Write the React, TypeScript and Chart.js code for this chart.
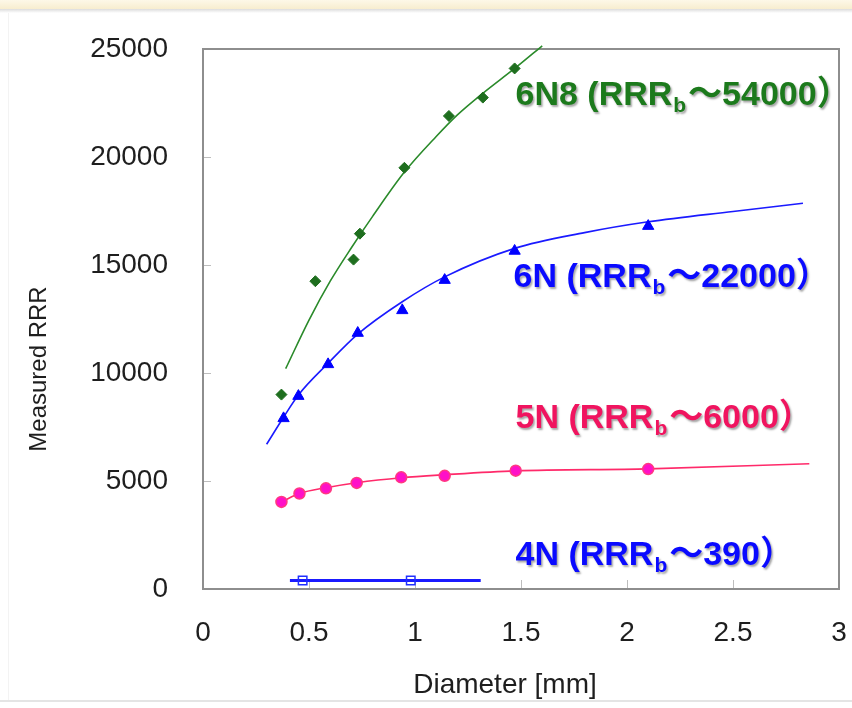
import React, { useEffect, useRef } from "react";
import { Chart, registerables } from "chart.js";

Chart.register(...registerables);

// ---------- data ----------
// 6N8 measured points (green diamonds)
const pts6N8X = [0.37, 0.53, 0.71, 0.74, 0.95, 1.16, 1.32, 1.47];
const pts6N8Y = [9000, 14250, 15250, 16450, 19500, 21900, 22750, 24100];
// 6N8 fitted curve (green line)
const fit6N8X = [0.39, 0.5, 0.6, 0.7, 0.8, 0.95, 1.1, 1.2, 1.32, 1.47, 1.6];
const fit6N8Y = [10200, 12450, 14250, 15800, 17250, 19300, 20950, 21950, 22950, 24100, 25150];

// 6N measured points (blue triangles)
const pts6NX = [0.38, 0.45, 0.59, 0.73, 0.94, 1.14, 1.47, 2.1];
const pts6NY = [7900, 8930, 10400, 11850, 12900, 14300, 15650, 16800];
// 6N fitted curve
const fit6NX = [0.3, 0.38, 0.45, 0.59, 0.73, 0.94, 1.14, 1.47, 1.8, 2.1, 2.5, 2.83];
const fit6NY = [6700, 7950, 8980, 10450, 11800, 13300, 14450, 15770, 16500, 17000, 17480, 17860];

// 5N measured points (magenta circles)
const pts5NX = [0.37, 0.455, 0.58, 0.725, 0.935, 1.14, 1.475, 2.1];
const pts5NY = [4030, 4420, 4660, 4910, 5170, 5240, 5480, 5550];
// 5N fitted curve
const fit5NX = [0.37, 0.455, 0.58, 0.725, 0.935, 1.14, 1.475, 2.1, 2.86];
const fit5NY = [4030, 4420, 4690, 4920, 5150, 5290, 5470, 5560, 5800];

// 4N measured points (hollow squares) and line
const pts4NX = [0.47, 0.98];
const pts4NY = [390, 390];
const fit4NX = [0.41, 1.31];
const fit4NY = [390, 390];

// axis ticks
const xTickValues = [0, 0.5, 1, 1.5, 2, 2.5, 3];
const xTickLabels = ["0", "0.5", "1", "1.5", "2", "2.5", "3"];
const yTickValues = [0, 5000, 10000, 15000, 20000, 25000];
const yTickLabels = ["0", "5000", "10000", "15000", "20000", "25000"];

// series annotations (text)
const labelPre = ["6N8 (RRR", "6N (RRR", "5N (RRR", "4N (RRR"];
const labelSub = ["b", "b", "b", "b"];
const labelPost = ["～54000）", "～22000）", "～6000）", "～390）"];
// anchors of the annotations in data units (left x, baseline y)
const labelAnchorX = [1.474, 1.465, 1.474, 1.474];
const labelAnchorY = [22400, 13980, 7450, 1110];

const xTitle = "Diameter [mm]";
const yTitle = "Measured RRR";

// ---------- styles ----------
const FONT = '"Liberation Sans", Arial, "Noto Sans CJK JP", sans-serif';
const labelColors = ["#1c7a1c", "#0a0aff", "#f0145f", "#0a0aff"];

const toXY = (xs: number[], ys: number[]) => xs.map((x, i) => ({ x, y: ys[i] }));

const framePlugin = {
  id: "frame",
  beforeDatasetsDraw(chart: any) {
    const { ctx, chartArea: a, scales } = chart;
    ctx.save();
    ctx.strokeStyle = "#bdbdbd";
    ctx.lineWidth = 1;
    yTickValues.forEach((v) => {
      const y = Math.round(scales.y.getPixelForValue(v)) + 0.5;
      ctx.beginPath();
      ctx.moveTo(a.left, y);
      ctx.lineTo(a.left + 8, y);
      ctx.stroke();
    });
    xTickValues.forEach((v) => {
      const x = Math.round(scales.x.getPixelForValue(v)) + 0.5;
      ctx.beginPath();
      ctx.moveTo(x, a.bottom);
      ctx.lineTo(x, a.bottom - 9);
      ctx.stroke();
    });
    ctx.strokeStyle = "#8e8e8e";
    ctx.lineWidth = 2;
    ctx.strokeRect(a.left, a.top, a.right - a.left, a.bottom - a.top);
    ctx.restore();
  },
};

const labelPlugin = {
  id: "seriesLabels",
  afterDatasetsDraw(chart: any) {
    const { ctx, scales } = chart;
    ctx.save();
    ctx.textAlign = "left";
    ctx.textBaseline = "alphabetic";
    ctx.shadowColor = "rgba(0,0,0,0.35)";
    ctx.shadowOffsetX = 1.5;
    ctx.shadowOffsetY = 1.5;
    ctx.shadowBlur = 2;
    labelPre.forEach((pre, i) => {
      const x = scales.x.getPixelForValue(labelAnchorX[i]);
      const y = scales.y.getPixelForValue(labelAnchorY[i]);
      ctx.fillStyle = labelColors[i];
      ctx.font = `bold 34px ${FONT}`;
      ctx.fillText(pre, x, y);
      let w = ctx.measureText(pre).width + 1;
      ctx.font = `bold 21px ${FONT}`;
      ctx.fillText(labelSub[i], x + w, y + 7);
      w += ctx.measureText(labelSub[i]).width + 2;
      ctx.font = `bold 34px ${FONT}`;
      ctx.fillText(labelPost[i], x + w, y);
    });
    ctx.restore();
  },
};

const titlePlugin = {
  id: "axisTitles",
  afterDraw(chart: any) {
    const { ctx } = chart;
    ctx.save();
    ctx.fillStyle = "#1e1e1e";
    ctx.textAlign = "center";
    ctx.textBaseline = "middle";
    ctx.font = `28px ${FONT}`;
    ctx.fillText(xTitle, 505, 685);
    ctx.translate(39, 369);
    ctx.rotate(-Math.PI / 2);
    ctx.font = `24px ${FONT}`;
    ctx.fillText(yTitle, 0, 0);
    ctx.restore();
  },
};

export default function App() {
  const canvasRef = useRef<HTMLCanvasElement | null>(null);

  useEffect(() => {
    document.body.style.margin = "0";
    const canvas = canvasRef.current;
    if (!canvas) return;
    const chart = new Chart(canvas, {
      type: "scatter",
      data: {
        datasets: [
          {
            label: "6N8 data",
            data: toXY(pts6N8X, pts6N8Y),
            showLine: false,
            pointStyle: "rectRot",
            pointRadius: 5.5,
            backgroundColor: "#1e6e1e",
            borderColor: "#1e6e1e",
            borderWidth: 1,
          },
          {
            label: "6N data",
            data: toXY(pts6NX, pts6NY),
            showLine: false,
            pointStyle: "triangle",
            pointRadius: 6.5,
            backgroundColor: "#0000ff",
            borderColor: "#0000ff",
            borderWidth: 1,
          },
          {
            label: "5N data",
            data: toXY(pts5NX, pts5NY),
            showLine: false,
            pointStyle: "circle",
            pointRadius: 5.5,
            backgroundColor: "#ff10c8",
            borderColor: "#ff3a80",
            borderWidth: 1.5,
          },
          {
            label: "4N data",
            data: toXY(pts4NX, pts4NY),
            showLine: false,
            pointStyle: "rect",
            pointRadius: 6,
            backgroundColor: "rgba(255,255,255,0)",
            borderColor: "#2030ff",
            borderWidth: 1.5,
          },
          {
            label: "6N8 fit",
            data: toXY(fit6N8X, fit6N8Y),
            showLine: true,
            pointRadius: 0,
            borderColor: "#2a8a2a",
            borderWidth: 1.6,
            cubicInterpolationMode: "monotone",
            clip: 10,
          },
          {
            label: "6N fit",
            data: toXY(fit6NX, fit6NY),
            showLine: true,
            pointRadius: 0,
            borderColor: "#1a1aff",
            borderWidth: 1.6,
            cubicInterpolationMode: "monotone",
          },
          {
            label: "5N fit",
            data: toXY(fit5NX, fit5NY),
            showLine: true,
            pointRadius: 0,
            borderColor: "#ff2a6a",
            borderWidth: 1.6,
            cubicInterpolationMode: "monotone",
          },
          {
            label: "4N line",
            data: toXY(fit4NX, fit4NY),
            showLine: true,
            pointRadius: 0,
            borderColor: "#1a1aff",
            borderWidth: 3,
          },
        ],
      } as any,
      options: {
        animation: false,
        responsive: false,
        maintainAspectRatio: false,
        layout: { padding: { top: 49, right: 13, left: 0, bottom: 0 } },
        plugins: {
          legend: { display: false },
          tooltip: { enabled: false },
        },
        font: { family: FONT } as any,
        scales: {
          x: {
            type: "linear",
            min: 0,
            max: 3,
            afterFit: (s: any) => {
              s.height = 119;
              s.paddingLeft = 0;
              s.paddingRight = 0;
            },
            grid: { display: false, drawTicks: false },
            border: { display: false },
            ticks: {
              stepSize: 0.5,
              padding: 27,
              color: "#1e1e1e",
              font: { size: 28, family: FONT },
              maxRotation: 0,
              autoSkip: false,
              callback: (v: any) => {
                const i = xTickValues.findIndex((t) => Math.abs(t - Number(v)) < 1e-6);
                return i >= 0 ? xTickLabels[i] : "";
              },
            },
          },
          y: {
            type: "linear",
            min: 0,
            max: 25000,
            afterFit: (s: any) => {
              s.width = 203;
              s.paddingTop = 0;
              s.paddingBottom = 0;
            },
            grid: { display: false, drawTicks: false },
            border: { display: false },
            ticks: {
              stepSize: 5000,
              padding: 35,
              color: "#1e1e1e",
              font: { size: 28, family: FONT },
              callback: (v: any) => {
                const i = yTickValues.indexOf(Number(v));
                return i >= 0 ? yTickLabels[i] : "";
              },
            },
          },
        },
      } as any,
      plugins: [framePlugin, labelPlugin, titlePlugin],
    });
    return () => chart.destroy();
  }, []);

  return (
    <div style={{ position: "relative", width: 852, height: 708, background: "#ffffff", overflow: "hidden" }}>
      <div
        style={{
          position: "absolute",
          left: 0,
          top: 0,
          width: 852,
          height: 9,
          background: "linear-gradient(#fdf8e8, #f7edcf)",
        }}
      />
      <div
        style={{
          position: "absolute",
          left: 0,
          top: 9,
          width: 852,
          height: 4,
          background: "linear-gradient(#dcdcdc, #ffffff)",
        }}
      />
      <div
        style={{ position: "absolute", left: 8, top: 13, width: 1, height: 687, background: "#f3f3f3" }}
      />
      <div
        style={{ position: "absolute", left: 0, top: 700, width: 852, height: 2, background: "#e4e4e4" }}
      />
      <canvas
        ref={canvasRef}
        width={852}
        height={708}
        style={{ position: "absolute", left: 0, top: 0, width: 852, height: 708 }}
      />
    </div>
  );
}
